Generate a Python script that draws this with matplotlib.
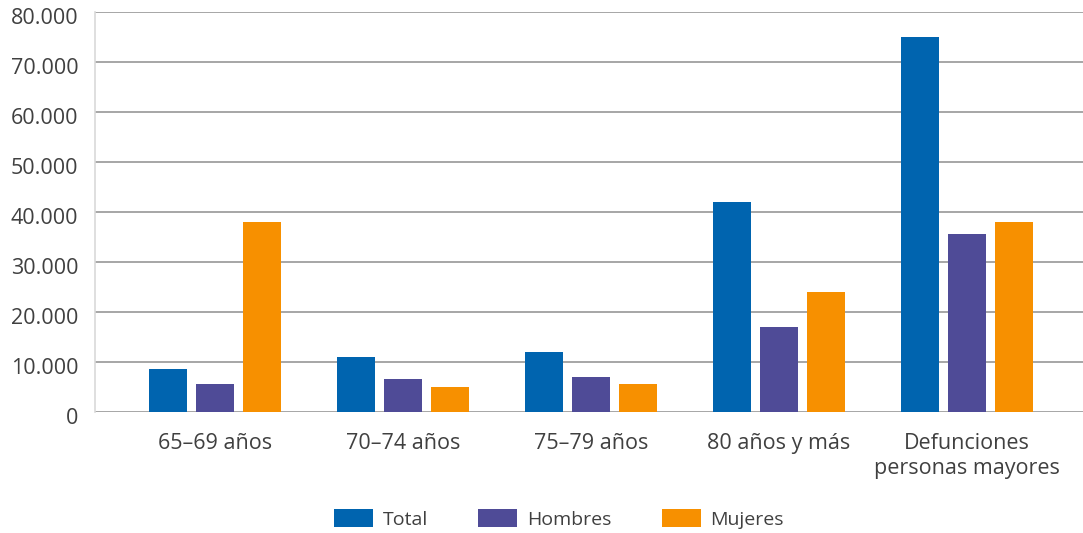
import matplotlib.pyplot as plt
import numpy as np
import matplotlib.transforms as mtransforms
from matplotlib.ticker import FuncFormatter

categories = ['65–69 años', '70–74 años', '75–79 años', '80 años y más',
              'Defunciones\npersonas mayores']
total = [8550, 10950, 12000, 42000, 75050]
hombres = [5550, 6550, 6950, 17000, 35600]
mujeres = [38000, 4950, 5550, 24000, 38000]
series_names = ['Total', 'Hombres', 'Mujeres']
colors = ['#0064AF', '#4F4B97', '#F79000']

plt.rcParams['font.family'] = ['Open Sans', 'DejaVu Sans']

fig = plt.figure(figsize=(10.83, 5.33), dpi=100)
ax = fig.add_axes([95 / 1083, 1 - 411.7 / 533, 1 - 95 / 1083, (411.7 - 12.3) / 533])

x = np.arange(len(categories))
w = 0.202
for i, (vals, name, c) in enumerate(zip([total, hombres, mujeres], series_names, colors)):
    ax.bar(x + (i - 1) * 0.25, vals, width=w, color=c, label=name, zorder=3)

ax.set_ylim(0, 80000)
ax.set_xlim(-0.638, 4.617)
ax.set_yticks(range(0, 80001, 10000))
ax.yaxis.set_major_formatter(FuncFormatter(lambda v, p: f'{int(v):,}'.replace(',', '.')))
ax.grid(axis='y', color='#a6a6a6', linewidth=1.4, zorder=0)
ax.set_xticks(x)
ax.set_xticklabels(categories, fontsize=15.5, color='#404040', linespacing=1.3)
ax.tick_params(axis='x', length=0, pad=15)
ax.tick_params(axis='y', length=0, labelsize=15.5, labelcolor='#404040', pad=12)
# y labels sit a little below their gridlines in the original
shift = mtransforms.ScaledTranslation(0, -4 / 100, fig.dpi_scale_trans)
for lab in ax.get_yticklabels():
    lab.set_transform(lab.get_transform() + shift)
for s in ['top', 'right', 'bottom']:
    ax.spines[s].set_visible(False)
ax.spines['left'].set_color('#d9d9d9')
ax.spines['left'].set_linewidth(1.2)

fig.legend(loc='center', bbox_to_anchor=(0.516, 1 - 519 / 533), ncol=3, frameon=False,
           fontsize=14, handlelength=2.0, handleheight=1.0, columnspacing=2.6,
           handletextpad=0.5, labelcolor='#404040')

plt.savefig('out.png', dpi=100)
